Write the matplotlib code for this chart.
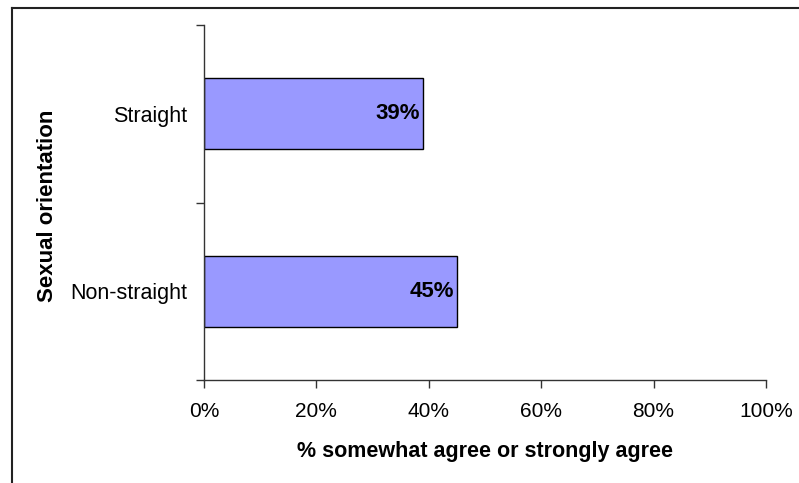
import matplotlib.pyplot as plt
from matplotlib.lines import Line2D

plt.rcParams['font.family'] = ['Liberation Sans', 'DejaVu Sans']

# survey result by group
groups = ["Non-straight", "Straight"]
agree_pct = [45, 39]
xticks = [0, 20, 40, 60, 80, 100]

fig = plt.figure(figsize=(7.99, 4.83), dpi=100)
ax = fig.add_axes([204 / 799, 1 - 380 / 483, 562 / 799, 355 / 483])

ypos = list(range(len(groups)))
ax.barh(ypos, agree_pct, height=0.4, color="#9999FF", edgecolor="black", linewidth=1.0)

for y, v in zip(ypos, agree_pct):
    ax.text(v - 0.5, y, f"{v}%", ha="right", va="center", fontsize=16, fontweight="bold")

ax.set_xlim(0, 100)
ax.set_ylim(-0.5, len(groups) - 0.5)
ax.set_xticks(xticks)
ax.set_xticklabels([f"{t}%" for t in xticks], fontsize=15)
ax.tick_params(axis="x", direction="out", length=6, width=1, pad=10, color="#333333")

# category boundaries as major ticks, names as minor ticks
ax.set_yticks([-0.5, 0.5, 1.5])
ax.set_yticklabels([])
ax.set_yticks(ypos, minor=True)
ax.set_yticklabels(groups, minor=True, fontsize=15.5)
ax.tick_params(axis="y", which="major", direction="out", length=6, width=1, color="#333333")
ax.tick_params(axis="y", which="minor", length=0, pad=12)

for side in ["top", "right"]:
    ax.spines[side].set_visible(False)
for side in ["left", "bottom"]:
    ax.spines[side].set_color("#333333")
    ax.spines[side].set_linewidth(1)

ax.set_xlabel("% somewhat agree or strongly agree", fontsize=15.5, fontweight="bold", labelpad=14)
fig.text(48 / 799, 1 - 206 / 483, "Sexual orientation", rotation=90, ha="center", va="center",
         fontsize=16, fontweight="bold")

# chart-area frame
fx, fy = 11.5 / 799, 1 - 7.5 / 483
fig.add_artist(Line2D([fx, fx], [0, fy], transform=fig.transFigure, color="#222222", lw=1.5))
fig.add_artist(Line2D([fx, 1], [fy, fy], transform=fig.transFigure, color="#222222", lw=1.5))

fig.savefig("out.png", dpi=100, facecolor="white")
